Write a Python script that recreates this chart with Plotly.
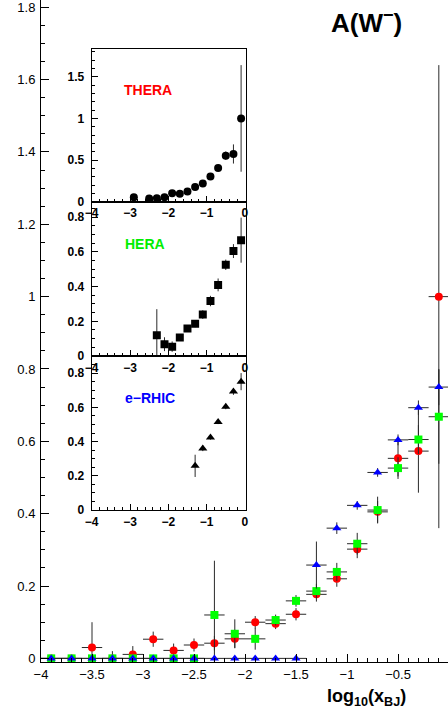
import plotly.graph_objects as go

# ---- data ----
x_bins = [-3.9, -3.7, -3.5, -3.3, -3.1, -2.9, -2.7, -2.5, -2.3, -2.1,
          -1.9, -1.7, -1.5, -1.3, -1.1, -0.9, -0.7, -0.5, -0.3, -0.1]
x_halfwidth = [0.1] * 20

thera_val = [0.0, 0.0, 0.030, 0.0, 0.011, 0.053, 0.022, 0.037, 0.042, 0.054,
             0.100, 0.096, 0.122, 0.177, 0.220, 0.302, 0.405, 0.553, 0.573, 1.000]
thera_err = [0.0, 0.0, 0.070, 0.020, 0.023, 0.021, 0.019, 0.018, 0.020, 0.025,
             0.017, 0.015, 0.017, 0.020, 0.022, 0.025, 0.030, 0.050, 0.115, 0.640]

hera_val = [0.0, 0.0, 0.0, 0.0, 0.0, 0.0, 0.0, 0.0, 0.120, 0.068,
            0.054, 0.106, 0.159, 0.186, 0.239, 0.317, 0.410, 0.526, 0.605, 0.668]
hera_err = [0.0, 0.0, 0.0, 0.0, 0.0, 0.0, 0.0, 0.0, 0.150, 0.040,
            0.030, 0.015, 0.016, 0.020, 0.025, 0.030, 0.037, 0.030, 0.040, 0.130]

erhic_val = [0.0, 0.0, 0.0, 0.0, 0.0, 0.0, 0.0, 0.0, 0.0, 0.0,
             0.0, 0.0, 0.0, 0.258, 0.360, 0.423, 0.514, 0.604, 0.693, 0.750]
erhic_err = [0.0, 0.0, 0.0, 0.0, 0.0, 0.0, 0.0, 0.0, 0.0, 0.0,
             0.0, 0.0, 0.0, 0.065, 0.016, 0.012, 0.012, 0.015, 0.020, 0.050]

main_yticks = [0, 0.2, 0.4, 0.6, 0.8, 1.0, 1.2, 1.4, 1.6, 1.8]
main_xticks = [-4, -3.5, -3, -2.5, -2, -1.5, -1, -0.5, 0]
inset_xticks = [-4, -3, -2, -1, 0]
thera_yticks = [0, 0.5, 1, 1.5]
small_yticks = [0, 0.2, 0.4, 0.6, 0.8]

THERA_INSET_MIN = 0.035

# ---- figure ----
W, H = 448, 717
ERR_COL = "#2a2a2a"
FONT = "Liberation Sans, Arial, Helvetica, sans-serif"

fig = go.Figure()

def main_trace(vals, errs, symbol, color, size):
    return go.Scatter(
        x=x_bins, y=vals, mode="markers",
        marker=dict(symbol=symbol, color=color, size=size, line=dict(width=0)),
        error_x=dict(type="data", array=x_halfwidth, color=ERR_COL, thickness=1, width=0),
        error_y=dict(type="data", array=errs, color=ERR_COL, thickness=1, width=0),
        xaxis="x", yaxis="y", showlegend=False, cliponaxis=False,
    )

fig.add_trace(main_trace(thera_val, thera_err, "circle", "#ff0000", 8))
fig.add_trace(main_trace(hera_val, hera_err, "square", "#00ff00", 8))
fig.add_trace(main_trace(erhic_val, erhic_err, "triangle-up", "#0000ff", 8))


def inset_trace(vals, errs, symbol, xa, ya, vmin):
    xs, ys, es = [], [], []
    for xv, yv, ev in zip(x_bins, vals, errs):
        if yv > vmin:
            xs.append(xv); ys.append(yv); es.append(ev)
    return go.Scatter(
        x=xs, y=ys, mode="markers",
        marker=dict(symbol=symbol, color="black", size=8, line=dict(width=0)),
        error_y=dict(type="data", array=es, color=ERR_COL, thickness=1, width=0),
        xaxis=xa, yaxis=ya, showlegend=False,
    )

fig.add_trace(inset_trace(thera_val, thera_err, "circle", "x2", "y2", THERA_INSET_MIN))
fig.add_trace(inset_trace(hera_val, hera_err, "square", "x3", "y3", 0.0))
fig.add_trace(inset_trace(erhic_val, erhic_err, "triangle-up", "x4", "y4", 0.0))

def px_x(p):
    return p / W

def px_y(p):
    return 1 - p / H

main_font = dict(family=FONT, size=13, color="black")
bold_font = dict(family="Liberation Sans, Arial, sans-serif", size=12, color="black", weight="bold")

common_main = dict(showline=True, linecolor="black", linewidth=1, showgrid=False,
                   zeroline=False, ticks="inside", ticklen=8, tickcolor="black",
                   tickfont=main_font, automargin=False, ticklabeloverflow="allow")

layout = dict(
    width=W, height=H,
    margin=dict(l=0, r=0, t=0, b=0, autoexpand=False),
    paper_bgcolor="white", plot_bgcolor="rgba(0,0,0,0)",
    showlegend=False,
    xaxis=dict(domain=[px_x(41), 1.0], range=[-4, -0.01], tickvals=main_xticks,
               minor=dict(ticks="inside", ticklen=4, dtick=0.1, tickcolor="black"),
               anchor="y", **common_main),
    yaxis=dict(domain=[px_y(662), 1.0], range=[-0.01, 1.82], tickvals=main_yticks,
               minor=dict(ticks="inside", ticklen=4, dtick=0.05, tickcolor="black"),
               anchor="x", ticklabelstandoff=2, **common_main),
)

inset_xdom = [px_x(91.7), px_x(245.7)]
inset_specs = [
    ("2", [px_y(201.7), px_y(49.3)], [0, 1.83], thera_yticks, 0.1),
    ("3", [px_y(356), px_y(202)], [0, 0.888], small_yticks, 0.05),
    ("4", [px_y(510), px_y(356)], [0, 0.90], small_yticks, 0.05),
]
for n, ydom, yr, yt, ymin in inset_specs:
    layout["xaxis" + n] = dict(
        domain=inset_xdom, range=[-4, 0.02], tickvals=inset_xticks,
        anchor="y" + n, showline=True, mirror=True, linecolor="black", linewidth=1.2,
        showgrid=False, zeroline=False, ticks="inside", ticklen=6, tickcolor="black",
        minor=dict(ticks="inside", ticklen=3, dtick=0.2, tickcolor="black"),
        tickfont=bold_font, automargin=False, ticklabeloverflow="allow",
    )
    layout["yaxis" + n] = dict(
        domain=ydom, range=yr, tickvals=yt,
        anchor="x" + n, showline=True, mirror=True, linecolor="black", linewidth=1.2,
        showgrid=False, zeroline=False, ticks="inside", ticklen=6, tickcolor="black",
        minor=dict(ticks="inside", ticklen=3, dtick=ymin, tickcolor="black"),
        tickfont=bold_font, ticklabelstandoff=4, automargin=False,
        ticklabeloverflow="allow",
    )

fig.update_layout(**layout)

ann = [
    dict(text="A(W<sup>−</sup>)", x=px_x(366), y=px_y(21), xref="paper", yref="paper",
         showarrow=False, xanchor="center", yanchor="middle",
         font=dict(family=FONT, size=26, color="black", weight="bold")),
    dict(text="log<sub>10</sub>(x<sub>BJ</sub>)", x=px_x(366), y=px_y(697), xref="paper", yref="paper",
         showarrow=False, xanchor="center", yanchor="middle",
         font=dict(family=FONT, size=18, color="black", weight="bold")),
    dict(text="THERA", x=px_x(122), y=px_y(90), xref="paper", yref="paper",
         showarrow=False, xanchor="left", yanchor="middle",
         font=dict(family=FONT, size=14, color="#ff0000", weight="bold")),
    dict(text="HERA", x=px_x(123), y=px_y(244), xref="paper", yref="paper",
         showarrow=False, xanchor="left", yanchor="middle",
         font=dict(family=FONT, size=14, color="#00ee00", weight="bold")),
    dict(text="e−RHIC", x=px_x(123), y=px_y(398), xref="paper", yref="paper",
         showarrow=False, xanchor="left", yanchor="middle",
         font=dict(family=FONT, size=14, color="#0000ff", weight="bold")),
]
fig.update_layout(annotations=ann)

fig.write_html(
    "out.html",
    config={"displayModeBar": False},
    post_script="document.body.style.margin='0';document.body.style.padding='0';"
                "document.body.style.overflow='hidden';",
)
